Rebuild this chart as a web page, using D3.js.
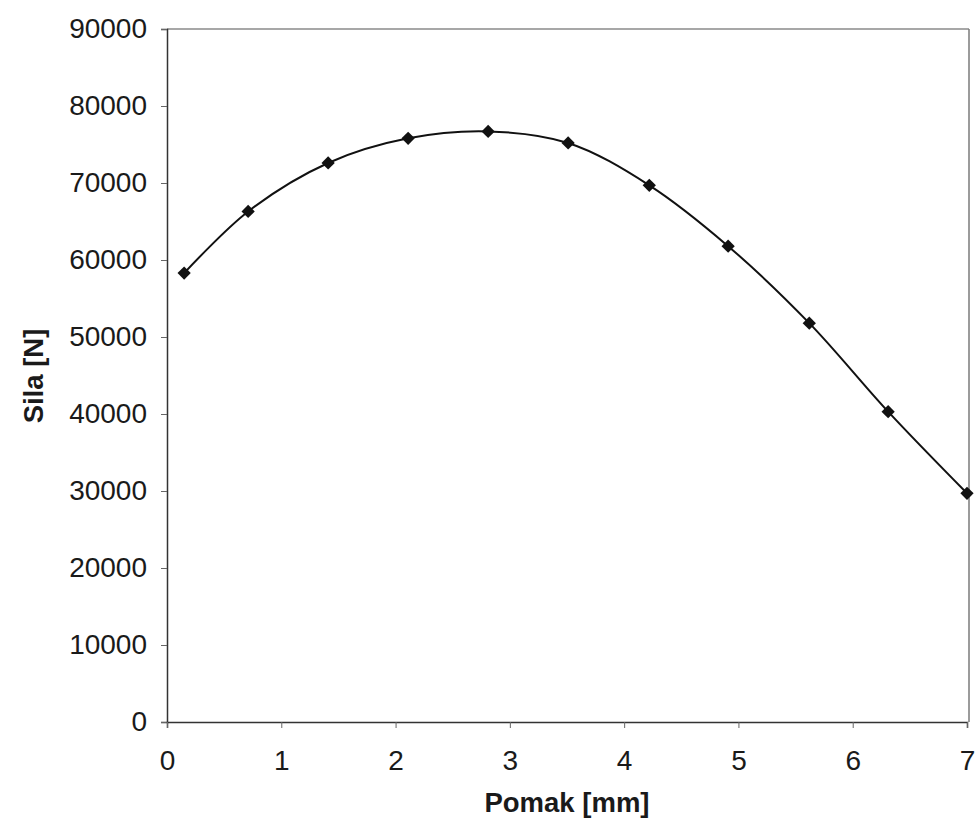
<!DOCTYPE html>
<html>
<head>
<meta charset="utf-8">
<script src="https://cdn.jsdelivr.net/npm/d3@7"></script>
<style>
  html, body { margin: 0; padding: 0; background: #fff; }
  svg { display: block; }
  text { font-family: "Liberation Sans", Arial, sans-serif; fill: #1a1a1a; }
</style>
</head>
<body>
<svg id="chart" width="976" height="826"></svg>
<script>
// Data
const pomak = [0.15, 0.71, 1.41, 2.11, 2.81, 3.51, 4.22, 4.91, 5.62, 6.31, 7.0];
const sila  = [58300, 66300, 72600, 75800, 76700, 75200, 69700, 61800, 51800, 40300, 29700];
const xTicks = [0, 1, 2, 3, 4, 5, 6, 7];
const yTicks = [0, 10000, 20000, 30000, 40000, 50000, 60000, 70000, 80000, 90000];
const xTitle = "Pomak [mm]";
const yTitle = "Sila [N]";

const svg = d3.select("#chart");
const margin = { left: 167, right: 8, top: 29, bottom: 104 };
const W = 976, H = 826;

const x = d3.scaleLinear().domain([0, 7]).range([margin.left, W - margin.right - 1]);
const y = d3.scaleLinear().domain([0, 90000]).range([H - margin.bottom, margin.top]);

// Frame: top and right lighter
svg.append("line").attr("x1", x(0)).attr("x2", x(7) + 2).attr("y1", y(90000)).attr("y2", y(90000))
  .attr("stroke", "#8a8a8a").attr("stroke-width", 1.5);
svg.append("line").attr("x1", x(7) + 2).attr("x2", x(7) + 2).attr("y1", y(90000)).attr("y2", y(0))
  .attr("stroke", "#7a7a7a").attr("stroke-width", 1.5);

// Y axis
const yAxis = svg.append("g").attr("transform", `translate(${x(0)},0)`)
  .call(d3.axisLeft(y).tickValues(yTicks).tickSize(6).tickPadding(14).tickFormat(d3.format("d")));
yAxis.select(".domain").attr("stroke", "#333").attr("stroke-width", 1.5);
yAxis.selectAll(".tick line").attr("stroke", "#666");
yAxis.selectAll("text").attr("font-size", 28).attr("fill", "#1a1a1a")
  .style("font-family", '"Liberation Sans", Arial, sans-serif');

// X axis
const xAxis = svg.append("g").attr("transform", `translate(0,${y(0)})`)
  .call(d3.axisBottom(x).tickValues(xTicks).tickSize(6).tickPadding(22).tickFormat(d3.format("d")));
xAxis.select(".domain").attr("stroke", "#333").attr("stroke-width", 1.5);
xAxis.selectAll(".tick line").attr("stroke", "#666");
xAxis.selectAll("text").attr("font-size", 28).attr("fill", "#1a1a1a")
  .style("font-family", '"Liberation Sans", Arial, sans-serif');

// Titles
svg.append("text").attr("x", (x(0) + x(7)) / 2).attr("y", 812).attr("text-anchor", "middle")
  .attr("font-size", 27.5).attr("font-weight", "bold").text(xTitle);
svg.append("text").attr("transform", `translate(43,${376}) rotate(-90)`)
  .attr("text-anchor", "middle").attr("font-size", 27.5).attr("font-weight", "bold").text(yTitle);

// Line
const pts = pomak.map((p, i) => [p, sila[i]]);
svg.append("path").datum(pts)
  .attr("fill", "none").attr("stroke", "#111").attr("stroke-width", 2)
  .attr("d", d3.line().x(d => x(d[0])).y(d => y(d[1])).curve(d3.curveCatmullRom.alpha(0.5)));

// Markers (diamonds)
svg.append("g").selectAll("path").data(pts).join("path")
  .attr("transform", d => `translate(${x(d[0])},${y(d[1])}) rotate(45)`)
  .attr("d", d3.symbol().type(d3.symbolSquare).size(88))
  .attr("fill", "#111");
</script>
</body>
</html>
